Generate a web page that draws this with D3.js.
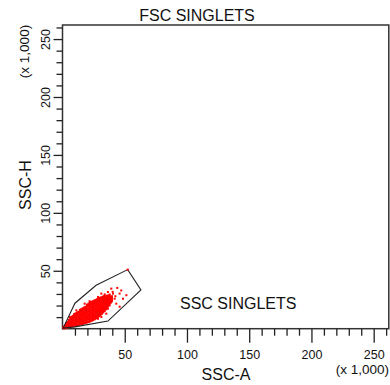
<!DOCTYPE html>
<html><head><meta charset="utf-8">
<script src="https://cdn.jsdelivr.net/npm/d3@7"></script>
<style>
html,body{margin:0;padding:0;background:#fff;}
svg{display:block;}
text{font-family:"Liberation Sans",Arial,sans-serif;fill:#111;}
</style></head>
<body>
<svg id="chart" width="390" height="385"></svg>
<script>
// ---- data (values in thousands) ----
const axisMax = 262.144;
const majorTicks = [50, 100, 150, 200, 250];
const minorTicks = [10,20,30,40,60,70,80,90,110,120,130,140,160,170,180,190,210,220,230,240,260];
const titleText = "FSC SINGLETS";
const xLabel = "SSC-A";
const yLabel = "SSC-H";
const unitLabel = "(x 1,000)";
const gateName = "SSC SINGLETS";
const gateVertices = [[0.5,0.5],[10,22],[27,37.5],[52.4,51],[63,33.4],[36.5,6.6],[10,1.6]];
const gateHandle = [[52.4,51]];
const coreEvents = [
[1,0.5],[1,1.5],[2.2,0.8],[2.2,2.5],[3.1,1.0],[3.1,3.0],[3.1,4.6],
[4.3,1.4],[4.3,3.3],[4.3,5.5],[5.2,1.7],[5.2,3.6],[5.2,5.4],[5.2,7.3],
[6.4,2.0],[6.4,4.0],[6.4,6.1],[6.4,8.2],[7.3,2.2],[7.3,4.3],[7.3,6.3],[7.3,8.4],[7.3,10.0],
[8.5,2.5],[8.5,4.6],[8.5,6.7],[8.5,8.8],[8.5,10.8],
[9.6,2.8],[9.6,4.9],[9.6,7.0],[9.6,9.1],[9.6,11.3],[9.6,12.4],
[10.7,3.0],[10.7,5.1],[10.7,7.2],[10.7,9.4],[10.7,11.5],[10.7,13.0],
[11.9,3.3],[11.9,5.5],[11.9,7.6],[11.9,9.7],[11.9,11.8],[11.9,13.8],
[13.0,3.6],[13.0,5.8],[13.0,7.9],[13.0,10.1],[13.0,12.2],[13.0,14.3],
[14.2,4.0],[14.2,6.1],[14.2,8.3],[14.2,10.4],[14.2,12.6],[14.2,14.7],[14.2,16.0],
[15.3,4.3],[15.3,6.5],[15.3,8.6],[15.3,10.8],[15.3,12.9],[15.3,15.1],[15.3,16.6],
[16.5,4.6],[16.5,6.8],[16.5,9.0],[16.5,11.2],[16.5,13.4],[16.5,15.5],[16.5,17.4],
[17.6,5.0],[17.6,7.2],[17.6,9.4],[17.6,11.6],[17.6,13.8],[17.6,16.0],[17.6,18.1],
[18.8,5.3],[18.8,7.5],[18.8,9.8],[18.8,12.0],[18.8,14.2],[18.8,16.4],[18.8,18.7],
[19.9,5.7],[19.9,8.0],[19.9,10.2],[19.9,12.4],[19.9,14.7],[19.9,16.9],[19.9,19.3],[19.9,20.5],
[21.1,6.1],[21.1,8.4],[21.1,10.6],[21.1,12.9],[21.1,15.1],[21.1,17.4],[21.1,19.8],[21.1,21.4],
[22.2,6.6],[22.2,8.8],[22.2,11.1],[22.2,13.3],[22.2,15.6],[22.2,17.9],[22.2,20.2],[22.2,22.2],
[23.4,7.1],[23.4,9.3],[23.4,11.6],[23.4,13.9],[23.4,16.1],[23.4,18.4],[23.4,20.8],[23.4,22.9],
[24.5,7.7],[24.5,9.9],[24.5,12.1],[24.5,14.4],[24.5,16.7],[24.5,19.0],[24.5,21.3],[24.5,23.4],
[25.7,8.4],[25.7,10.6],[25.7,12.8],[25.7,15.0],[25.7,17.3],[25.7,19.6],[25.7,21.9],[25.7,24.0],
[26.8,9.2],[26.8,11.3],[26.8,13.5],[26.8,15.7],[26.8,17.9],[26.8,20.2],[26.8,22.5],[26.8,24.6],
[28.0,10.0],[28.0,12.1],[28.0,14.2],[28.0,16.4],[28.0,18.6],[28.0,20.9],[28.0,23.1],[28.0,25.2],
[29.1,11.0],[29.1,13.0],[29.1,15.1],[29.1,17.2],[29.1,19.4],[29.1,21.6],[29.1,23.8],[29.1,25.8],
[30.3,12.0],[30.3,14.0],[30.3,16.0],[30.3,18.1],[30.3,20.2],[30.3,22.3],[30.3,24.4],[30.3,26.4],
[31.4,13.1],[31.4,15.1],[31.4,17.0],[31.4,19.0],[31.4,21.0],[31.4,23.0],[31.4,25.0],[31.4,26.9],
[32.6,14.3],[32.6,16.2],[32.6,18.1],[32.6,20.0],[32.6,21.9],[32.6,23.8],[32.6,25.7],[32.6,27.4],
[33.7,15.6],[33.7,17.4],[33.7,19.2],[33.7,21.0],[33.7,22.8],[33.7,24.6],[33.7,26.4],[33.7,28.0],
[34.9,17.0],[34.9,18.7],[34.9,20.4],[34.9,22.1],[34.9,23.8],[34.9,25.5],[34.9,27.2],
[36.0,18.6],[36.0,20.2],[36.0,21.8],[36.0,23.3],[36.0,24.9],[36.0,26.5],[36.0,28.3],
[37.2,20.4],[37.2,22.0],[37.2,23.5],[37.2,25.0],[37.2,26.6],[37.2,28.4],
[38.3,22.3],[38.3,24.0],[38.3,25.6],[38.3,27.2],
[39.5,24.2],[39.5,26.0],[39.5,27.8]
];
const sparseEvents = [
[44.0,35.2],[45.9,30.3],[51.3,28.9],[43.2,21.6],[36.5,17.3],[48.6,25.9],[40.6,30.3],
[39.2,34.6],[36.5,31.7],[33.9,29.6],[41.9,25.9],[31.2,30.3],[28.5,27.4],[45.9,19.0],
[39.2,23.1],[37.9,20.2],[33.9,18.8],[5.8,10.1],[11.1,15.9],[17.8,21.6],[21.8,23.7],
[31.2,10.1],[28.5,8.6],[35.2,13.0],[42.5,28.0],[40.3,31.8],[38.0,29.5],[47.2,33.0]
];

// ---- chart ----
const svg = d3.select("#chart");
const x = d3.scaleLinear().domain([0, axisMax]).range([62.5, 388.8]);
const y = d3.scaleLinear().domain([0, axisMax]).range([328.7, 25]);
const allTicks = majorTicks.concat(minorTicks).sort((a,b)=>a-b);

// frame
svg.append("rect").attr("x", x(0)).attr("y", y(axisMax))
  .attr("width", x(axisMax)-x(0)).attr("height", y(0)-y(axisMax))
  .attr("fill","none").attr("stroke","#333").attr("stroke-width",1.5);

// x axis
const xAxis = svg.append("g").attr("transform",`translate(0,${y(0)})`)
  .call(d3.axisBottom(x).tickValues(allTicks).tickSizeOuter(0)
    .tickFormat(d => majorTicks.includes(d) ? d : ""));
xAxis.select(".domain").remove();
xAxis.selectAll(".tick line").attr("stroke","#222").attr("stroke-width",1.3)
  .attr("y2", d => majorTicks.includes(d) ? 14 : 7);
xAxis.selectAll(".tick text").attr("y", 21).attr("dy", "0.71em")
  .style("font-size","12.5px").style("font-family","'Liberation Sans',Arial,sans-serif").attr("fill","#111");

// y axis
const yAxis = svg.append("g").attr("transform",`translate(${x(0)},0)`)
  .call(d3.axisLeft(y).tickValues(allTicks).tickSizeOuter(0)
    .tickFormat(d => majorTicks.includes(d) ? d : ""));
yAxis.select(".domain").remove();
yAxis.selectAll(".tick line").attr("stroke","#222").attr("stroke-width",1.3)
  .attr("x2", d => majorTicks.includes(d) ? -9 : -6);
yAxis.selectAll(".tick text")
  .attr("x", null).attr("dy", null)
  .attr("text-anchor","middle")
  .attr("transform","translate(-13,0) rotate(-90)")
  .style("font-size","12.5px").style("font-family","'Liberation Sans',Arial,sans-serif").attr("fill","#111");

// events
const plot = svg.append("g");
plot.selectAll("rect.core").data(coreEvents).join("rect").attr("class","core")
  .attr("x", d => x(d[0]) - 1.3).attr("y", d => y(d[1]) - 1.3)
  .attr("width", 2.6).attr("height", 2.6).attr("fill", "#ff0000");
plot.selectAll("rect.sparse").data(sparseEvents).join("rect").attr("class","sparse")
  .attr("x", d => x(d[0]) - 1).attr("y", d => y(d[1]) - 1)
  .attr("width", 2).attr("height", 2).attr("fill", "#ff0000");

// gate
svg.append("path")
  .attr("d", d3.line().x(d => x(d[0])).y(d => y(d[1]))(gateVertices) + "Z")
  .attr("fill","none").attr("stroke","#222").attr("stroke-width",1.1);
svg.selectAll("rect.handle").data(gateHandle).join("rect").attr("class","handle")
  .attr("x", d => x(d[0]) - 1).attr("y", d => y(d[1]) - 1)
  .attr("width", 2).attr("height", 2).attr("fill", "#ff0000");

// texts
svg.append("text").attr("x", 197).attr("y", 21).attr("text-anchor","middle")
  .style("font-size","16px").text(titleText);
svg.append("text").attr("x", 180).attr("y", 308.5)
  .style("font-size","16px").text(gateName);
svg.append("text").attr("x", 226).attr("y", 380).attr("text-anchor","middle")
  .style("font-size","16px").text(xLabel);
svg.append("text").attr("transform","translate(31,185) rotate(-90)").attr("text-anchor","middle")
  .style("font-size","16px").text(yLabel);
svg.append("text").attr("x", 389).attr("y", 374).attr("text-anchor","end")
  .style("font-size","13.5px").text(unitLabel);
svg.append("text").attr("transform","translate(29,51.5) rotate(-90)").attr("text-anchor","middle")
  .style("font-size","13.5px").text(unitLabel);
</script>
</body></html>
